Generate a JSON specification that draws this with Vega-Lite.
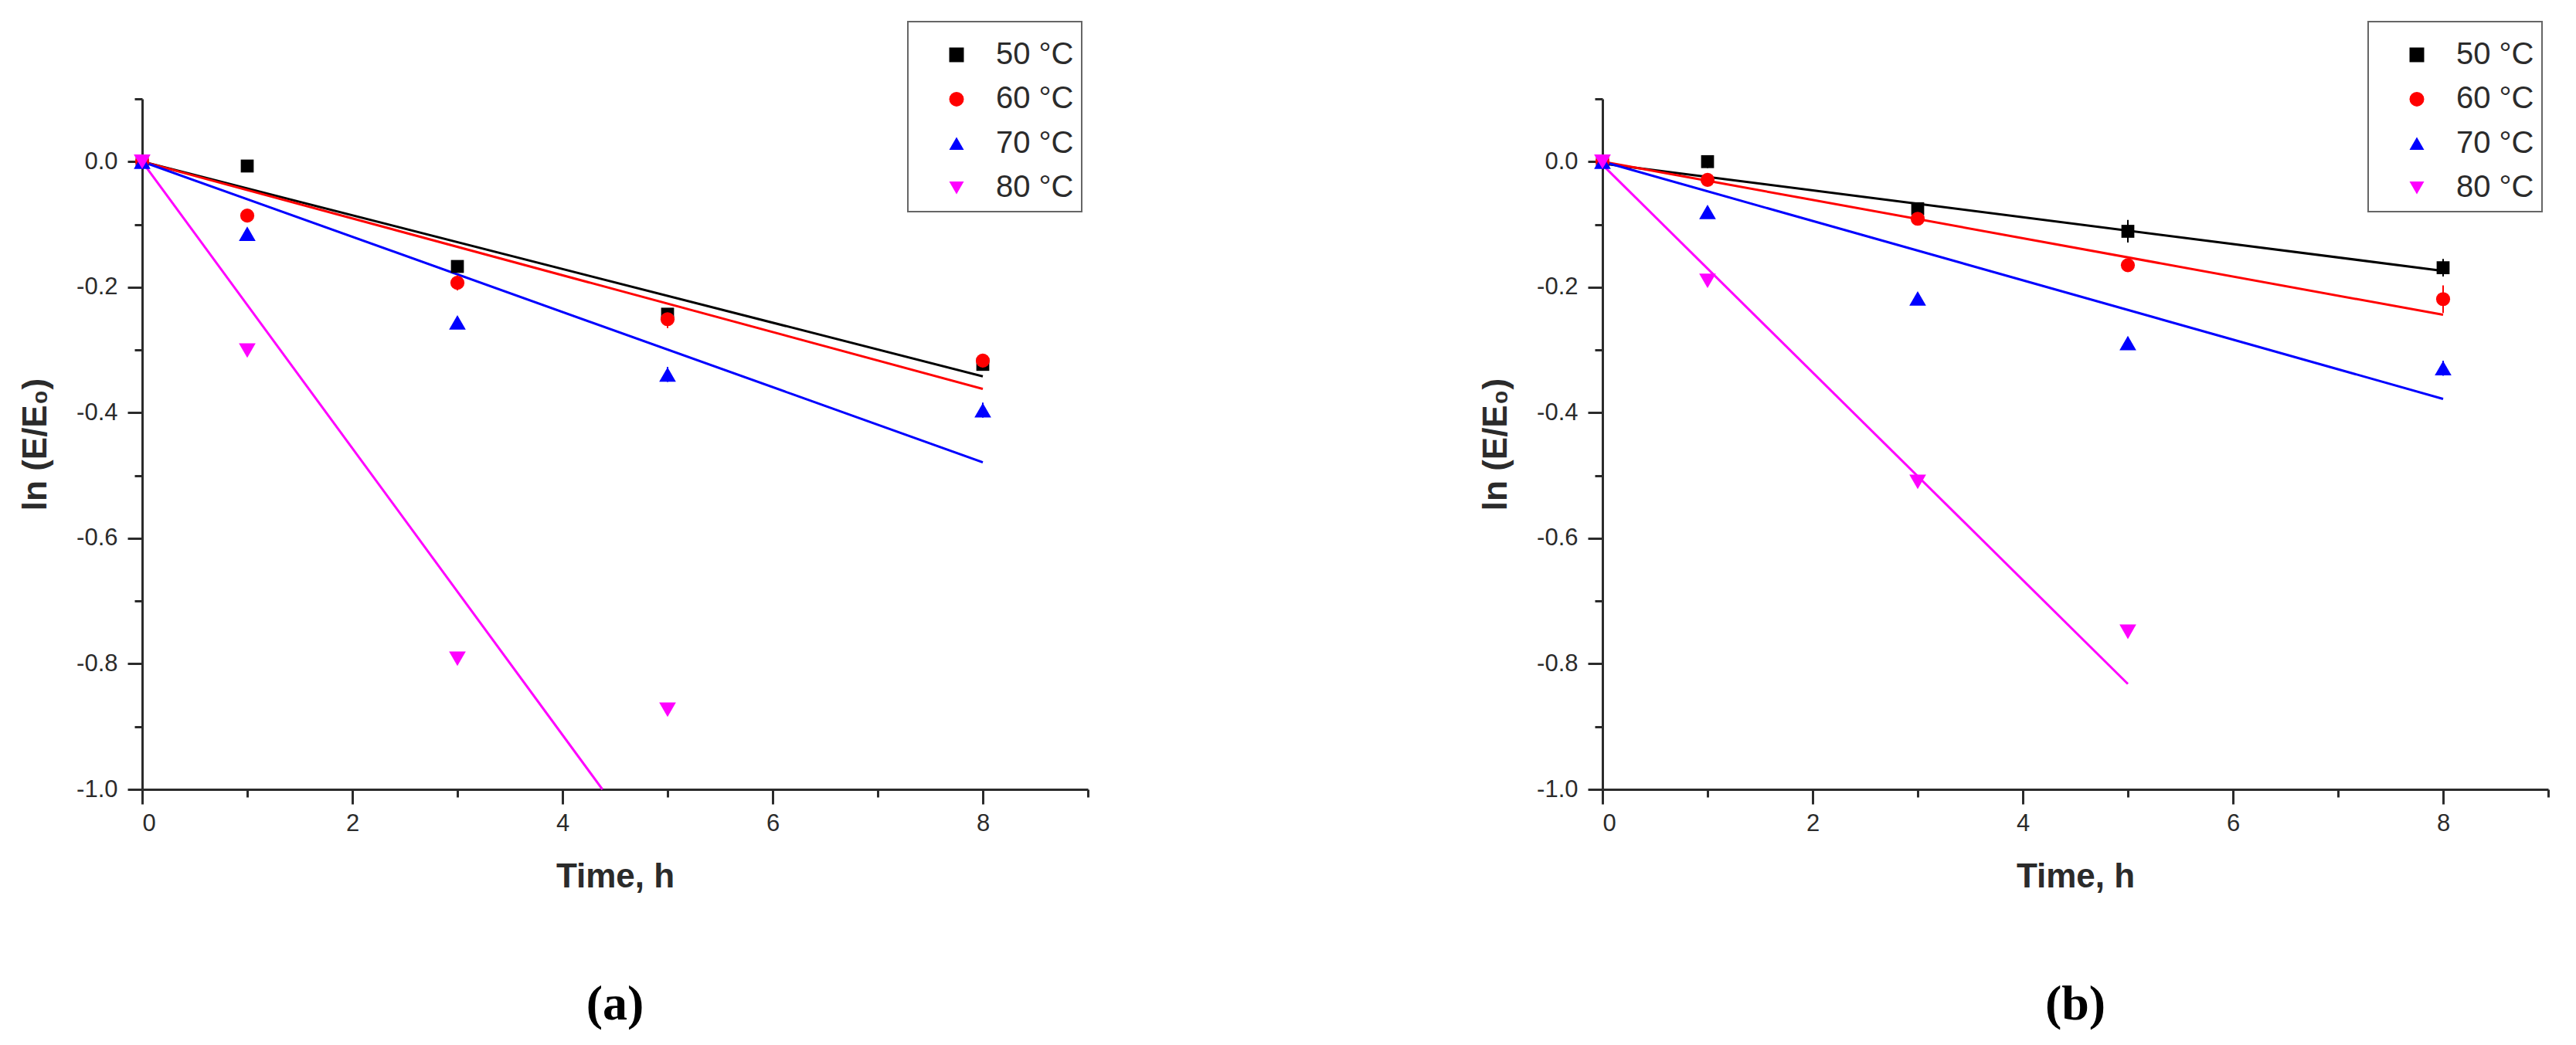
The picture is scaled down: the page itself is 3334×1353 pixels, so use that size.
{
  "$schema": "https://vega.github.io/schema/vega-lite/v6.json",
  "background": "white",
  "padding": {"left": 24, "top": 27, "right": 0, "bottom": 0},
  "spacing": 504,
  "datasets": {
    "pts": [
      {"panel": "a", "series": "50 °C", "t": 0, "v": 0},
      {"panel": "a", "series": "50 °C", "t": 1, "v": -0.007},
      {"panel": "a", "series": "50 °C", "t": 3, "v": -0.167},
      {"panel": "a", "series": "50 °C", "t": 5, "v": -0.243},
      {"panel": "a", "series": "50 °C", "t": 8, "v": -0.323},
      {"panel": "a", "series": "60 °C", "t": 0, "v": 0},
      {"panel": "a", "series": "60 °C", "t": 1, "v": -0.086},
      {"panel": "a", "series": "60 °C", "t": 3, "v": -0.193},
      {"panel": "a", "series": "60 °C", "t": 5, "v": -0.251},
      {"panel": "a", "series": "60 °C", "t": 8, "v": -0.317},
      {"panel": "a", "series": "70 °C", "t": 0, "v": 0},
      {"panel": "a", "series": "70 °C", "t": 1, "v": -0.115},
      {"panel": "a", "series": "70 °C", "t": 3, "v": -0.256},
      {"panel": "a", "series": "70 °C", "t": 5, "v": -0.339},
      {"panel": "a", "series": "70 °C", "t": 8, "v": -0.396},
      {"panel": "a", "series": "80 °C", "t": 0, "v": 0},
      {"panel": "a", "series": "80 °C", "t": 1, "v": -0.301},
      {"panel": "a", "series": "80 °C", "t": 3, "v": -0.792},
      {"panel": "a", "series": "80 °C", "t": 5, "v": -0.873},
      {"panel": "b", "series": "50 °C", "t": 0, "v": 0},
      {"panel": "b", "series": "50 °C", "t": 1, "v": 0.0},
      {"panel": "b", "series": "50 °C", "t": 3, "v": -0.075},
      {"panel": "b", "series": "50 °C", "t": 5, "v": -0.111},
      {"panel": "b", "series": "50 °C", "t": 8, "v": -0.169},
      {"panel": "b", "series": "60 °C", "t": 0, "v": 0},
      {"panel": "b", "series": "60 °C", "t": 1, "v": -0.029},
      {"panel": "b", "series": "60 °C", "t": 3, "v": -0.091},
      {"panel": "b", "series": "60 °C", "t": 5, "v": -0.165},
      {"panel": "b", "series": "60 °C", "t": 8, "v": -0.219},
      {"panel": "b", "series": "70 °C", "t": 0, "v": 0},
      {"panel": "b", "series": "70 °C", "t": 1, "v": -0.080},
      {"panel": "b", "series": "70 °C", "t": 3, "v": -0.218},
      {"panel": "b", "series": "70 °C", "t": 5, "v": -0.289},
      {"panel": "b", "series": "70 °C", "t": 8, "v": -0.329},
      {"panel": "b", "series": "80 °C", "t": 0, "v": 0},
      {"panel": "b", "series": "80 °C", "t": 1, "v": -0.190},
      {"panel": "b", "series": "80 °C", "t": 3, "v": -0.510},
      {"panel": "b", "series": "80 °C", "t": 5, "v": -0.749}
    ],
    "fit": [
      {"panel": "a", "series": "50 °C", "t": 0, "v": 0},
      {"panel": "a", "series": "50 °C", "t": 8, "v": -0.342},
      {"panel": "a", "series": "60 °C", "t": 0, "v": 0},
      {"panel": "a", "series": "60 °C", "t": 8, "v": -0.362},
      {"panel": "a", "series": "70 °C", "t": 0, "v": 0},
      {"panel": "a", "series": "70 °C", "t": 8, "v": -0.479},
      {"panel": "a", "series": "80 °C", "t": 0, "v": 0},
      {"panel": "a", "series": "80 °C", "t": 4.38, "v": -1.0},
      {"panel": "b", "series": "50 °C", "t": 0, "v": -0.003},
      {"panel": "b", "series": "50 °C", "t": 8, "v": -0.174},
      {"panel": "b", "series": "60 °C", "t": 0, "v": 0},
      {"panel": "b", "series": "60 °C", "t": 8, "v": -0.244},
      {"panel": "b", "series": "70 °C", "t": 0, "v": 0},
      {"panel": "b", "series": "70 °C", "t": 8, "v": -0.378},
      {"panel": "b", "series": "80 °C", "t": 0, "v": -0.005},
      {"panel": "b", "series": "80 °C", "t": 5, "v": -0.832}
    ],
    "err": [
      {"panel": "a", "series": "50 °C", "t": 8, "lo": -0.329, "hi": -0.317},
      {"panel": "a", "series": "60 °C", "t": 3, "lo": -0.205, "hi": -0.181},
      {"panel": "a", "series": "60 °C", "t": 5, "lo": -0.265, "hi": -0.237},
      {"panel": "a", "series": "70 °C", "t": 3, "lo": -0.264, "hi": -0.248},
      {"panel": "a", "series": "70 °C", "t": 5, "lo": -0.351, "hi": -0.327},
      {"panel": "a", "series": "70 °C", "t": 8, "lo": -0.408, "hi": -0.384},
      {"panel": "b", "series": "50 °C", "t": 1, "lo": -0.01, "hi": 0.01},
      {"panel": "b", "series": "50 °C", "t": 5, "lo": -0.129, "hi": -0.093},
      {"panel": "b", "series": "50 °C", "t": 8, "lo": -0.183, "hi": -0.155},
      {"panel": "b", "series": "60 °C", "t": 5, "lo": -0.173, "hi": -0.157},
      {"panel": "b", "series": "60 °C", "t": 8, "lo": -0.241, "hi": -0.197},
      {"panel": "b", "series": "70 °C", "t": 3, "lo": -0.226, "hi": -0.210},
      {"panel": "b", "series": "70 °C", "t": 8, "lo": -0.341, "hi": -0.317},
      {"panel": "b", "series": "80 °C", "t": 5, "lo": -0.755, "hi": -0.743}
    ]
  },
  "hconcat": [
    {
      "width": 1224,
      "height": 894,
      "title": {"text": "(a)", "orient": "bottom", "frame": "group", "anchor": "middle", "offset": 112},
      "layer": [
        {
          "data": {"name": "fit"},
          "transform": [{"filter": "datum.panel == 'a'"}],
          "mark": {"type": "line", "strokeWidth": 3},
          "encoding": {
            "x": {"field": "t", "type": "quantitative", "scale": {"domain": [0, 9], "nice": false, "zero": false},
              "axis": {"title": "Time, h", "values": [0, 1, 2, 3, 4, 5, 6, 7, 8, 9],
                "tickSize": {"condition": {"test": "datum.value % 2 == 0 && datum.value < 9", "value": 19}, "value": 10},
                "labelExpr": "datum.value % 2 == 0 && datum.value < 9 ? format(datum.value, 'd') : ''",
                "labelPadding": 10, "titlePadding": 32}},
            "y": {"field": "v", "type": "quantitative", "scale": {"domain": [-1, 0.1], "nice": false, "zero": false},
              "axis": {"title": "ln (E/E₀)", "values": [0.1, 0, -0.1, -0.2, -0.3, -0.4, -0.5, -0.6, -0.7, -0.8, -0.9, -1.0],
                "tickSize": {"condition": {"test": "round(datum.value*10) % 2 == 0", "value": 19}, "value": 10},
                "labelExpr": "round(datum.value*10) % 2 == 0 ? replace(format(datum.value, '.1f'), '−', '-') : ''",
                "labelPadding": 13, "titlePadding": 30}},
            "stroke": {"field": "series", "type": "nominal",
              "scale": {"range": ["#000000", "#ff0000", "#0000ff", "#ff00ff"]},
              "legend": null}
          }
        },
        {
          "data": {"name": "err"},
          "transform": [{"filter": "datum.panel == 'a'"}],
          "mark": {"type": "rule", "strokeWidth": 2},
          "encoding": {
            "x": {"field": "t", "type": "quantitative"},
            "y": {"field": "lo", "type": "quantitative"},
            "y2": {"field": "hi"},
            "stroke": {"field": "series", "type": "nominal", "legend": null}
          }
        },
        {
          "data": {"name": "pts"},
          "transform": [{"filter": "datum.panel == 'a'"}],
          "mark": {"type": "point", "filled": true, "opacity": 1},
          "encoding": {
            "x": {"field": "t", "type": "quantitative"},
            "y": {"field": "v", "type": "quantitative"},
            "color": {"field": "series", "type": "nominal",
              "scale": {"domain": ["50 °C", "60 °C", "70 °C", "80 °C"], "range": ["#000000", "#ff0000", "#0000ff", "#ff00ff"]},
              "legend": {"orient": "none", "legendX": 991, "legendY": -100, "title": " "}},
            "shape": {"field": "series", "type": "nominal",
              "scale": {"domain": ["50 °C", "60 °C", "70 °C", "80 °C"], "range": ["square", "circle", "triangle-up", "triangle-down"]}},
            "size": {"field": "series", "type": "nominal",
              "scale": {"type": "ordinal", "range": [280, 330, 470, 470]}, "legend": null}
          }
        }
      ]
    },
    {
      "width": 1224,
      "height": 894,
      "title": {"text": "(b)", "orient": "bottom", "frame": "group", "anchor": "middle", "offset": 112},
      "layer": [
        {
          "data": {"name": "fit"},
          "transform": [{"filter": "datum.panel == 'b'"}],
          "mark": {"type": "line", "strokeWidth": 3},
          "encoding": {
            "x": {"field": "t", "type": "quantitative", "scale": {"domain": [0, 9], "nice": false, "zero": false},
              "axis": {"title": "Time, h", "values": [0, 1, 2, 3, 4, 5, 6, 7, 8, 9],
                "tickSize": {"condition": {"test": "datum.value % 2 == 0 && datum.value < 9", "value": 19}, "value": 10},
                "labelExpr": "datum.value % 2 == 0 && datum.value < 9 ? format(datum.value, 'd') : ''",
                "labelPadding": 10, "titlePadding": 32}},
            "y": {"field": "v", "type": "quantitative", "scale": {"domain": [-1, 0.1], "nice": false, "zero": false},
              "axis": {"title": "ln (E/E₀)", "values": [0.1, 0, -0.1, -0.2, -0.3, -0.4, -0.5, -0.6, -0.7, -0.8, -0.9, -1.0],
                "tickSize": {"condition": {"test": "round(datum.value*10) % 2 == 0", "value": 19}, "value": 10},
                "labelExpr": "round(datum.value*10) % 2 == 0 ? replace(format(datum.value, '.1f'), '−', '-') : ''",
                "labelPadding": 13, "titlePadding": 30}},
            "stroke": {"field": "series", "type": "nominal",
              "scale": {"range": ["#000000", "#ff0000", "#0000ff", "#ff00ff"]},
              "legend": null}
          }
        },
        {
          "data": {"name": "err"},
          "transform": [{"filter": "datum.panel == 'b'"}],
          "mark": {"type": "rule", "strokeWidth": 2},
          "encoding": {
            "x": {"field": "t", "type": "quantitative"},
            "y": {"field": "lo", "type": "quantitative"},
            "y2": {"field": "hi"},
            "stroke": {"field": "series", "type": "nominal", "legend": null}
          }
        },
        {
          "data": {"name": "pts"},
          "transform": [{"filter": "datum.panel == 'b'"}],
          "mark": {"type": "point", "filled": true, "opacity": 1},
          "encoding": {
            "x": {"field": "t", "type": "quantitative"},
            "y": {"field": "v", "type": "quantitative"},
            "color": {"field": "series", "type": "nominal",
              "scale": {"domain": ["50 °C", "60 °C", "70 °C", "80 °C"], "range": ["#000000", "#ff0000", "#0000ff", "#ff00ff"]},
              "legend": {"orient": "none", "legendX": 991, "legendY": -100, "title": " "}},
            "shape": {"field": "series", "type": "nominal",
              "scale": {"domain": ["50 °C", "60 °C", "70 °C", "80 °C"], "range": ["square", "circle", "triangle-up", "triangle-down"]}},
            "size": {"field": "series", "type": "nominal",
              "scale": {"type": "ordinal", "range": [280, 330, 470, 470]}, "legend": null}
          }
        }
      ]
    }
  ],
  "resolve": {"scale": {"color": "independent", "shape": "independent", "stroke": "independent", "size": "independent"}},
  "config": {
    "view": {"stroke": null},
    "axis": {
      "grid": false,
      "domainColor": "#2b2b2b",
      "domainWidth": 3,
      "tickColor": "#2b2b2b",
      "tickWidth": 3,
      "labelFont": "Liberation Sans",
      "labelFontSize": 31,
      "labelColor": "#2b2b2b",
      "titleFont": "Liberation Sans",
      "titleFontSize": 44,
      "titleFontWeight": "bold",
      "titleColor": "#2b2b2b"
    },
    "legend": {
      "labelFont": "Liberation Sans",
      "labelFontSize": 40,
      "labelColor": "#2b2b2b",
      "titleFontSize": 8,
      "titlePadding": 5,
      "symbolSize": 360,
      "symbolStrokeWidth": 0,
      "padding": 10,
      "rowPadding": 17.4,
      "symbolOffset": 33,
      "labelOffset": 31,
      "strokeColor": "#666666",
      "strokeWidth": 2,
      "fillColor": "white"
    },
    "title": {
      "font": "Liberation Serif",
      "fontSize": 64,
      "fontWeight": "bold",
      "color": "#000000"
    }
  }
}
